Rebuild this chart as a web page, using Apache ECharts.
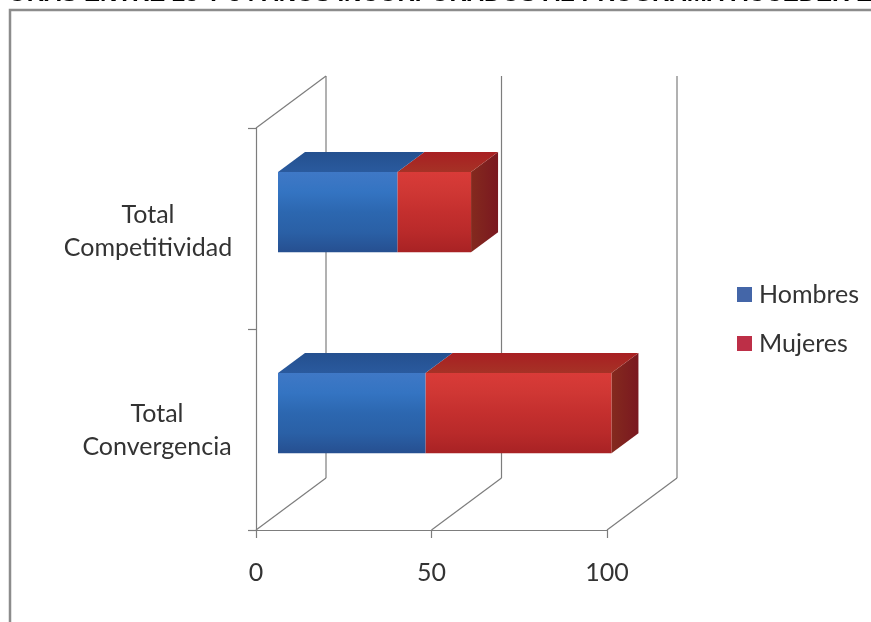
<!DOCTYPE html>
<html><head><meta charset="utf-8">
<style>html,body{margin:0;padding:0;background:#fff}#c{width:871px;height:622px}</style>
<script src="https://cdn.jsdelivr.net/npm/echarts@6/dist/echarts.min.js"></script>
</head><body><div id="c"></div>
<script>
const categories = ['Total Convergencia', 'Total Competitividad'];
const hombres = [42, 34];
const mujeres = [53, 21];
const xTicks = [0, 50, 100];
const titleText = 'ORAS ENTRE 25 Y 54 AÑOS INCORPORADOS AL PROGRAMA ACCEDER E';

const FONT = 'Lato';
const GRID = '#7d7d7d';
const TXT = '#333333';
const DX = 70, DY = -52;          // wall depth offset
const FRONT = 22 / 70, DEPTH = 27 / 70;  // bar position inside the depth
const THICK = 0.4;                // bar thickness / band

const lin = (x0, y0, x1, y1, stops) => ({type: 'linear', x: x0, y: y0, x2: x1, y2: y1,
  colorStops: stops.map((c, i) => ({offset: i / (stops.length - 1), color: c}))});
const faces = {
  blue: {
    front: lin(0, 0, 0, 1, ['#3f78c6', '#3474c2', '#2c67b0', '#2a60a6', '#264f90']),
    top: lin(0, 0, 0, 1, ['#24508f', '#2a5a9e']),
    side: '#1f4378'
  },
  red: {
    front: lin(0, 0, 0, 1, ['#d93b38', '#cf3734', '#c42f2e', '#b92a2a', '#a82224']),
    top: lin(0, 0, 0, 1, ['#a81f22', '#a63226']),
    side: lin(0, 0, 1, 0, ['#842a1e', '#7a1820'])
  }
};

function barRenderer(face, isLast) {
  return function (params, api) {
    const cat = api.value(0);
    const p0 = api.coord([api.value(1), cat]);
    const p1 = api.coord([api.value(2), cat]);
    const h = api.size([0, 1])[1] * THICK;
    const ox = DX * FRONT, oy = DY * FRONT;
    const dx = DX * DEPTH, dy = DY * DEPTH;
    const x0 = p0[0] + ox, x1 = p1[0] + ox;
    const yT = p0[1] + oy - h / 2, yB = yT + h;
    const kids = [
      {type: 'polygon', shape: {points: [[x0, yT], [x1, yT], [x1 + dx, yT + dy], [x0 + dx, yT + dy]]},
        style: {fill: face.top}},
      {type: 'rect', shape: {x: x0, y: yT, width: x1 - x0, height: h}, style: {fill: face.front}}
    ];
    if (isLast) kids.unshift({type: 'polygon',
      shape: {points: [[x1, yT], [x1 + dx, yT + dy], [x1 + dx, yB + dy], [x1, yB]]},
      style: {fill: face.side}});
    return {type: 'group', children: kids};
  };
}

function wallRenderer(params, api) {
  const v = api.value(0);
  const cs = params.coordSys;
  const x = api.coord([v, 0])[0];
  const yF = cs.y + cs.height, yTop = cs.y;
  const st = {stroke: GRID, lineWidth: 1.2, fill: null};
  const seg = (a, b, c, d) => ({type: 'line', shape: {x1: a, y1: b, x2: c, y2: d}, style: st});
  const kids = [
    seg(x, yF, x + DX, yF + DY),
    seg(x + DX, yF + DY, x + DX, yTop + DY)
  ];
  if (v === xTicks[0]) kids.push(seg(x, yTop, x + DX, yTop + DY));
  return {type: 'group', children: kids};
}

const chart = echarts.init(document.getElementById('c'), null, {renderer: 'canvas'});
const lineStyle = {fontSize: 25, lineHeight: 33, color: TXT, fontFamily: FONT, align: 'center'};
chart.setOption({
  animation: false,
  backgroundColor: '#ffffff',
  textStyle: {fontFamily: FONT},
  grid: {left: 256, top: 128, width: 351, height: 402, containLabel: false},
  graphic: [
    {type: 'text', left: 8, top: -18, z: 10,
      style: {text: titleText, fill: '#000', font: 'bold 24px "Liberation Sans"'}},
    {type: 'polyline', z: 10, shape: {points: [[10, 622], [10, 10], [871, 10]]},
      style: {stroke: '#8c8c8c', lineWidth: 2.5, fill: null}}
  ],
  legend: {
    data: ['Hombres', 'Mujeres'], orient: 'vertical', left: 732, top: 277,
    itemWidth: 15, itemHeight: 15, itemGap: 24, icon: 'rect',
    textStyle: {fontFamily: FONT, fontSize: 25, color: TXT, padding: [0, 0, 0, 2]}
  },
  xAxis: {
    type: 'value', min: 0, max: 100, interval: 50, splitLine: {show: false},
    axisLine: {show: true, lineStyle: {color: GRID, width: 1.2}},
    axisTick: {show: true, length: 8, lineStyle: {color: GRID, width: 1.2}},
    axisLabel: {fontFamily: FONT, fontSize: 25, color: TXT, margin: 30}
  },
  yAxis: {
    type: 'category', data: categories,
    axisLine: {show: true, lineStyle: {color: GRID, width: 1.2}},
    axisTick: {show: true, length: 8, lineStyle: {color: GRID, width: 1.2}},
    splitLine: {show: false},
    axisLabel: {
      margin: 24, color: TXT, fontFamily: FONT,
      formatter: v => {
        const k = v === categories[0] ? 's' : 'l';
        return `{${k}0| }\n` + v.split(' ').map(w => `{${k}|${w}}`).join('\n');
      },
      rich: {
        s: Object.assign({width: 150}, lineStyle),
        l: Object.assign({width: 168}, lineStyle),
        s0: {fontSize: 1, lineHeight: 2, height: 2},
        l0: {fontSize: 1, lineHeight: 6, height: 6}
      }
    }
  },
  series: [
    {type: 'custom', name: 'walls', z: 1, silent: true, renderItem: wallRenderer,
      encode: {x: 0}, data: xTicks.map(v => [v])},
    {type: 'custom', name: 'Hombres', z: 3, itemStyle: {color: '#4466a8'},
      renderItem: barRenderer(faces.blue, false), encode: {x: 2, y: 0},
      data: hombres.map((v, i) => [i, 0, v])},
    {type: 'custom', name: 'Mujeres', z: 2, itemStyle: {color: '#bd2f47'},
      renderItem: barRenderer(faces.red, true), encode: {x: 2, y: 0},
      data: mujeres.map((v, i) => [i, hombres[i], hombres[i] + v])}
  ]
});
</script></body></html>
